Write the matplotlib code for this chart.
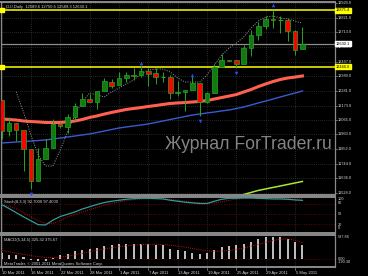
import matplotlib
matplotlib.use('Agg')
import matplotlib.pyplot as plt
import numpy as np

nan = float('nan')

# ---- data (_DJI daily, 10 Mar - 6 May 2011) ----
opens = [12211, 11983, 12042, 11992, 11855, 11614, 11777, 11860, 12036, 12018,
         12086, 12171, 12221, 12198, 12279, 12350, 12321, 12377, 12400, 12396,
         12426, 12410, 12381, 12381, 12264, 12270, 12285, 12341, 12202, 12267,
         12454, 12506, 12505, 12480, 12595, 12691, 12763, 12811, 12807, 12807,
         12723, 12589.6]
highs = [12212, 12089, 12042, 11992, 11855, 11860, 11925, 12073, 12054, 12112,
         12190, 12265, 12259, 12279, 12373, 12365, 12419, 12421, 12452, 12469,
         12450, 12453, 12420, 12400, 12354, 12290, 12391, 12341, 12271, 12477,
         12550, 12507, 12505, 12622, 12727, 12792, 12835, 12876, 12835, 12820,
         12727, 12750.6]
lows = [11923, 11947, 11913, 11688, 11555, 11614, 11777, 11860, 12007, 11974,
        12056, 12171, 12196, 12150, 12279, 12305, 12321, 12350, 12363, 12386,
        12319, 12328, 12346, 12219, 12242, 12132, 12285, 12093, 12189, 12267,
        12454, 12503, 12450, 12480, 12541, 12653, 12738, 12745, 12710, 12651,
        12545, 12589.3]
closes = [11984, 12044, 11993, 11855, 11613, 11775, 11859, 12037, 12019, 12086,
          12171, 12221, 12198, 12279, 12351, 12320, 12377, 12400, 12394, 12427,
          12409, 12380, 12381, 12264, 12271, 12285, 12342, 12202, 12267, 12454,
          12506, 12504, 12480, 12595, 12691, 12763, 12811, 12807, 12807, 12724,
          12584, 12630.1]

ma_red = [12074, 12070, 12066, 12059, 12055, 12052, 12048, 12048, 12048, 12052,
          12059, 12070, 12085, 12096, 12110, 12122, 12133, 12144, 12151, 12158,
          12166, 12173, 12181, 12188, 12192, 12195, 12199, 12203, 12210, 12221,
          12232, 12243, 12254, 12273, 12291, 12313, 12332, 12350, 12365, 12376,
          12383, 12391]
ma_blue = [11897, 11900, 11904, 11908, 11911, 11915, 11919, 11926, 11933, 11941,
           11948, 11956, 11963, 11974, 11985, 11996, 12007, 12015, 12022, 12029,
           12037, 12048, 12059, 12070, 12081, 12092, 12103, 12110, 12118, 12125,
           12133, 12140, 12151, 12162, 12177, 12192, 12206, 12221, 12236, 12251,
           12265, 12280]
ma_dotted = [nan, nan, 12273, 12125, 11956, 11808, 11727, 11727, 11845, 11978,
             12103, 12199, 12265, 12251, 12236, 12273, 12302, 12332, 12361, 12405,
             12435, 12442, 12442, 12420, 12376, 12346, 12346, 12346, 12398, 12472,
             12545, 12597, 12634, 12678, 12745, 12796, 12826, 12833, 12818, 12811,
             12796, 12781]
ma_lime = [nan] * 31 + [11495, 11506, 11517, 11532, 11547, 11558, 11569, 11580,
                        11591, 11602, 11613]

frac_up = [(19, 12486), (26, 12398), (37, 12914)]
frac_dn = [(4, 11524), (27, 12059), (32, 12413)]

stoch_main = [80, 68, 55, 42, 30, 18, 17, 32, 43, 50, 57, 66, 73, 80, 86, 90,
              93, 96, 98, 99, 99, 98, 97, 93, 90, 87, 85, 83, 83, 90, 96, 99,
              99, 100, 100, 99, 98, 97, 97, 96, 94, 92.7]
stoch_sig = [78, 75, 67, 55, 42, 30, 22, 22, 30, 42, 50, 57, 64, 71, 78, 84,
             88, 92, 95, 97, 98, 98.5, 98, 96, 93, 90, 87, 85, 84, 85, 88, 93,
             97, 98, 99, 99, 99, 98.5, 98, 97.5, 97.2, 97.4]

macd_hist = [141, 90, 90, 56, -20, -40, -30, 20, 90, 112, 179, 217, 240, 262,
             291, 314, 336, 336, 352, 352, 352, 329, 314, 240, 202, 186, 141,
             128, 141, 217, 276, 291, 314, 352, 388, 464, 500, 515, 515, 464,
             388, 325.32]
macd_sig = [200, 170, 140, 110, 85, 60, 45, 40, 50, 70, 100, 135, 170, 205,
            235, 260, 285, 305, 320, 330, 338, 340, 335, 320, 300, 275, 245,
            215, 190, 180, 185, 200, 225, 255, 295, 340, 385, 425, 455, 460,
            430, 375.67]

price_ticks = [12929.0, 12821.0, 12713.0, 12605.0, 12497.0, 12389.0, 12281.0,
               12173.0, 12065.0, 11960.0, 11852.0, 11744.0, 11636.0, 11528.0]
date_idx = [0, 4, 8, 12, 16, 20, 24, 28, 32, 36, 40]
date_labels = ['10 Mar 2011', '16 Mar 2011', '22 Mar 2011', '28 Mar 2011',
               '1 Apr 2011', '7 Apr 2011', '13 Apr 2011', '19 Apr 2011',
               '25 Apr 2011', '29 Apr 2011', '5 May 2011']
yellow_levels = [12875.4, 12460.0]
last_price = 12630.1

# ---- figure ----
W, H = 368, 276
fig = plt.figure(figsize=(W / 100, H / 100), dpi=100, facecolor='black')
plt.rcParams['font.family'] = ['Liberation Sans', 'DejaVu Sans']

def box(x0, y0, x1, y1):
    a = fig.add_axes([x0 / W, 1 - y1 / H, (x1 - x0) / W, (y1 - y0) / H])
    a.set_facecolor('black')
    a.set_xticks([])
    a.set_yticks([])
    for s in a.spines.values():
        s.set_color('#8a8a8a')
        s.set_linewidth(0.9)
    a.spines['top'].set_linewidth(1.4)
    a.spines['bottom'].set_linewidth(1.4)
    return a

def ftext(x, y, s, **kw):
    fig.text(x / W, 1 - y / H, s, **kw)

n = len(closes)
xs = np.arange(n)
px_per_bar = 7.34
xlim = ((1 - 1.5) / px_per_bar, (335 - 1.5) / px_per_bar)
grid_c = '#4c4c4c'
small = 2.8
txt_c = '#d8d8d8'

# main panel
ax = box(1, 2, 335, 195)
ax.set_xlim(xlim)
ax.set_ylim(12951.1 - 7.374 * 195, 12951.1 - 7.374 * 2)
for p in price_ticks:
    ax.axhline(p, color=grid_c, lw=0.5, ls=(0, (1, 2)), zorder=0)
for i in date_idx:
    ax.axvline(i, color=grid_c, lw=0.5, ls=(0, (1, 2)), zorder=0)

ax.text(0.741, 0.262, 'Журнал ForTrader.ru', transform=ax.transAxes,
        fontsize=12.7, color='#848484', ha='center', va='center', zorder=1)

ax.plot(xs, ma_blue, color='#3a5ad0', lw=1.0, zorder=2)
ax.plot(xs, ma_red, color='#ff6050', lw=2.2, zorder=2)
ax.plot(xs, ma_lime, color='#a8e830', lw=1.1, zorder=2)
ax.plot(xs, ma_dotted, color='#9a9a9a', lw=0.7, ls=(0, (1, 1.5)), zorder=2)

ax.axhline(last_price, color='#8c8c8c', lw=0.9, zorder=2)
for lv in yellow_levels:
    ax.axhline(lv, color='#ffff00', lw=1.1, zorder=2)
    ax.plot([0.004], [lv], marker='s', ms=2.2, color='#ffff00',
            transform=ax.get_yaxis_transform(), clip_on=False, zorder=3)

wick_c = '#22a822'
for i in range(n):
    o, h, l, c = opens[i], highs[i], lows[i], closes[i]
    ax.vlines(i, l, h, color=wick_c, lw=0.7, zorder=3)
    if c > o:
        ax.bar(i, c - o, bottom=o, width=0.62, color='#137a13',
               edgecolor=wick_c, lw=0.5, zorder=4)
    elif c < o:
        ax.bar(i, o - c, bottom=c, width=0.62, color='#ff0000',
               edgecolor=wick_c, lw=0.5, zorder=4)
    else:
        ax.hlines(o, i - 0.31, i + 0.31, color=wick_c, lw=0.8, zorder=4)

for i, p in frac_up:
    ax.plot(i, p, marker='^', ms=2.6, color='#2a48ff', mew=0, zorder=5)
for i, p in frac_dn:
    ax.plot(i, p, marker='v', ms=2.6, color='#2a48ff', mew=0, zorder=5,
            clip_on=False)

ytr = ax.get_yaxis_transform()
for p in price_ticks:
    ax.plot([1.0, 1.006], [p, p], color='#8a8a8a', lw=0.5, transform=ytr,
            clip_on=False)
    ax.text(1.008, p, '%.1f' % p, transform=ytr, fontsize=small, color=txt_c,
            va='center', ha='left', clip_on=False)
ax.text(1.003, last_price, '%.1f' % last_price, transform=ytr, fontsize=small,
        color='black', va='center', ha='left', clip_on=False,
        bbox=dict(boxstyle='square,pad=0.15', fc='white', ec='white'))
for lv in yellow_levels:
    ax.text(1.003, lv, '%.1f' % lv, transform=ytr, fontsize=small,
            color='black', va='center', ha='left', clip_on=False,
            bbox=dict(boxstyle='square,pad=0.15', fc='#ffff00', ec='#ffff00'))

ax.text(0.008, 0.985, '_DJI,Daily  %.1f %.1f %.1f %.1f' % (
    opens[-1], highs[-1], lows[-1], closes[-1]), transform=ax.transAxes,
    fontsize=3.0, color=txt_c, va='top', ha='left')

# stochastic panel
ax2 = box(1, 197, 335, 233)
ax2.set_xlim(xlim)
ax2.set_ylim(-7.6, 103)
for i in date_idx:
    ax2.axvline(i, color=grid_c, lw=0.5, ls=(0, (1, 2)), zorder=0)
for lv in [80, 50, 20]:
    ax2.axhline(lv, color='#8b0000', lw=0.6, ls=(0, (1, 2)), zorder=1)
ax2.plot(xs, stoch_sig, color='#c01010', lw=0.7, ls=(0, (1, 1.2)), zorder=2)
ax2.plot(xs, stoch_main, color='#2f9c9c', lw=0.9, zorder=3)
ax2.text(0.008, 0.93, 'Stoch(8,3,3) %.4f %.4f' % (stoch_main[-1], stoch_sig[-1]),
         transform=ax2.transAxes, fontsize=3.0, color=txt_c, va='top')
for s, yy in [('100', 199.3), ('80', 203.5), ('50', 214.3), ('20', 224.5),
              ('0', 228.3)]:
    ftext(338, yy, s, fontsize=small, color=txt_c, va='center')

# MACD panel
ax3 = box(1, 235, 335, 267)
ax3.set_xlim(xlim)
ax3.set_ylim(-174, 549)
for i in date_idx:
    ax3.axvline(i, color=grid_c, lw=0.5, ls=(0, (1, 2)), zorder=0)
ax3.axhline(0, color='#8b0000', lw=0.6, ls=(0, (1, 2)), zorder=1)
ax3.bar(xs, macd_hist, width=0.28, color='#bcbcbc', zorder=2)
ax3.plot(xs, macd_sig, color='#c01010', lw=0.7, ls=(0, (1, 1.2)), zorder=3)
ax3.text(0.008, 0.9, 'MACD(5,34,5) %.2f %.2f' % (macd_hist[-1], macd_sig[-1]),
         transform=ax3.transAxes, fontsize=3.0, color=txt_c, va='top')
ax3.text(0.008, 0.04, 'MetaTrader, \u00a9 2001-2011 MetaQuotes Software Corp.',
         transform=ax3.transAxes, fontsize=3.0, color=txt_c, va='bottom')
for s, yy in [('537.86', 236.5), ('0.00', 258.5), ('-190.30', 262.0)]:
    ftext(338, yy, s, fontsize=small, color=txt_c, va='center')

xtr = ax3.get_xaxis_transform()
for i, lab in zip(date_idx, date_labels):
    ax3.plot([i, i], [0, -0.08], color='#8a8a8a', lw=0.5, transform=xtr,
             clip_on=False)
    ax3.text(i + 0.08, -0.12, lab, transform=xtr, fontsize=3.0, color=txt_c,
             va='top', ha='left', clip_on=False)

fig.savefig('out.png', dpi=100, facecolor='black')
